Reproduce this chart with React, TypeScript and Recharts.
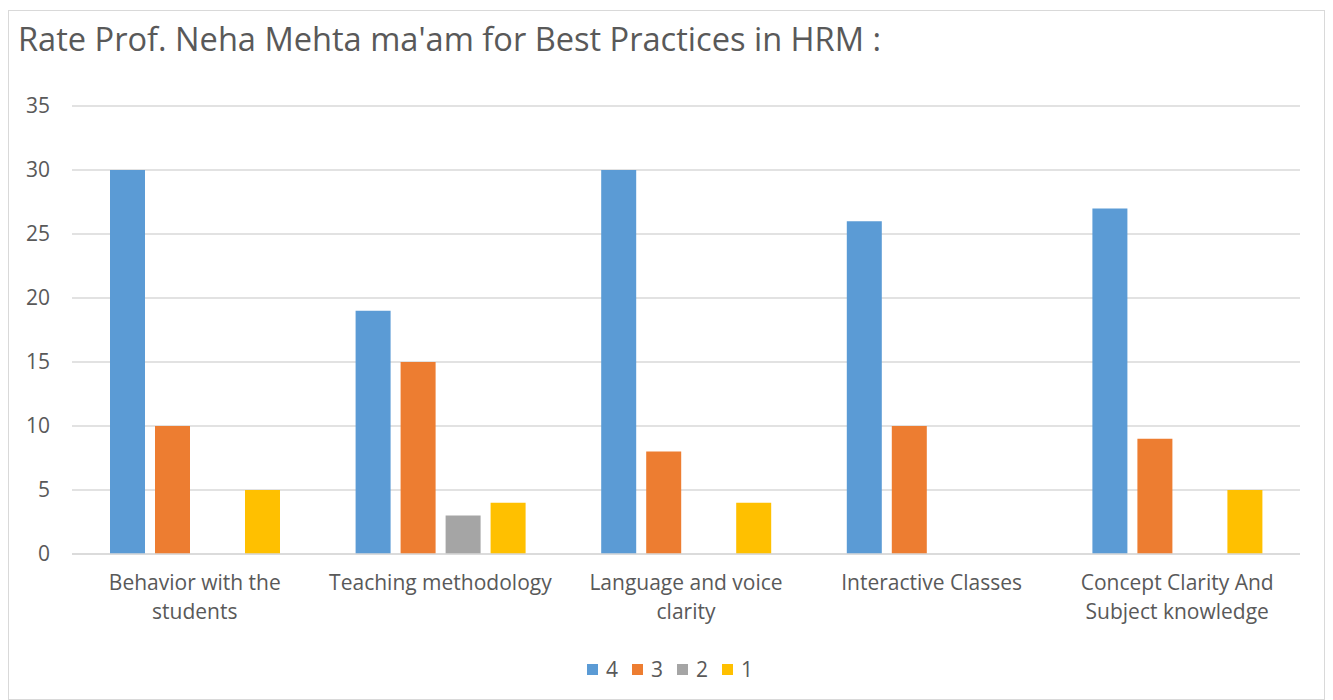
import React from 'react';
import { BarChart, Bar, XAxis, YAxis, CartesianGrid, Legend } from 'recharts';

const categories = [
  'Behavior with the students',
  'Teaching methodology',
  'Language and voice clarity',
  'Interactive Classes',
  'Concept Clarity And Subject knowledge',
];
const rating4 = [30, 19, 30, 26, 27];
const rating3 = [10, 15, 8, 10, 9];
const rating2 = [0, 3, 0, 0, 0];
const rating1 = [5, 4, 4, 0, 5];
const yTicks = [0, 5, 10, 15, 20, 25, 30, 35];

const seriesList = [
  { key: 'r4', name: '4', color: '#5B9BD5' },
  { key: 'r3', name: '3', color: '#ED7D31' },
  { key: 'r2', name: '2', color: '#A5A5A5' },
  { key: 'r1', name: '1', color: '#FFC000' },
];

const data = categories.map((name, i) => ({
  name,
  r4: rating4[i],
  r3: rating3[i],
  r2: rating2[i],
  r1: rating1[i],
}));

const FONT = '"Open Sans", sans-serif';
const TEXT = '#595959';

// wrap long category names like Excel does (about 20 chars per line)
function wrapLabel(label: string, maxChars = 20): string[] {
  const lines: string[] = [];
  let cur = '';
  label.split(' ').forEach((w) => {
    const next = cur ? cur + ' ' + w : w;
    if (next.length > maxChars && cur) {
      lines.push(cur);
      cur = w;
    } else {
      cur = next;
    }
  });
  if (cur) lines.push(cur);
  return lines;
}

const CategoryTick = (props: any) => {
  const { x, y, payload } = props;
  const lines = wrapLabel(payload.value);
  return (
    <text x={x} y={y + 36} textAnchor="middle" fontSize={21} fontFamily={FONT} fill={TEXT}>
      {lines.map((line, i) => (
        <tspan key={i} x={x} dy={i === 0 ? 0 : 29}>
          {line}
        </tspan>
      ))}
    </text>
  );
};

// legend keeps the series order (4, 3, 2, 1)
const LegendContent = () => (
  <div
    style={{
      display: 'flex',
      justifyContent: 'center',
      paddingLeft: 18,
      fontFamily: FONT,
      fontSize: 21,
      color: TEXT,
    }}
  >
    {seriesList.map((s) => (
      <div key={s.key} style={{ display: 'flex', alignItems: 'center', margin: '0 7px' }}>
        <span style={{ width: 11, height: 11, background: s.color, display: 'inline-block', marginRight: 8 }} />
        <span>{s.name}</span>
      </div>
    ))}
  </div>
);

export default function App() {
  return (
    <div
      style={{
        position: 'relative',
        width: 1315,
        height: 688,
        marginTop: 2,
        border: '1px solid #d9d9d9',
        background: '#fff',
      }}
    >
      <div
        style={{
          position: 'absolute',
          left: 9,
          top: 5,
          fontFamily: FONT,
          fontSize: 32.6,
          color: TEXT,
          whiteSpace: 'nowrap',
        }}
      >
        Rate Prof. Neha Mehta ma'am for Best Practices in HRM :
      </div>
      <BarChart
        width={1315}
        height={688}
        data={data}
        margin={{ top: 95, right: 24, left: 13, bottom: 16 }}
        barSize={35}
        barGap={10}
      >
        <CartesianGrid vertical={false} stroke="#d9d9d9" strokeWidth={1.5} />
        <XAxis
          dataKey="name"
          height={101}
          tickLine={false}
          tickSize={0}
          tickMargin={0}
          axisLine={{ stroke: '#d9d9d9', strokeWidth: 1.5 }}
          tick={<CategoryTick />}
          interval={0}
        />
        <YAxis
          width={50}
          domain={[0, 35]}
          ticks={yTicks}
          axisLine={false}
          tickLine={false}
          tickSize={0}
          tickMargin={22}
          tick={{ fontSize: 21, fontFamily: FONT, fill: TEXT }}
        />
        <Legend verticalAlign="bottom" content={<LegendContent />} />
        {seriesList.map((s) => (
          <Bar key={s.key} dataKey={s.key} name={s.name} fill={s.color} isAnimationActive={false} />
        ))}
      </BarChart>
    </div>
  );
}
